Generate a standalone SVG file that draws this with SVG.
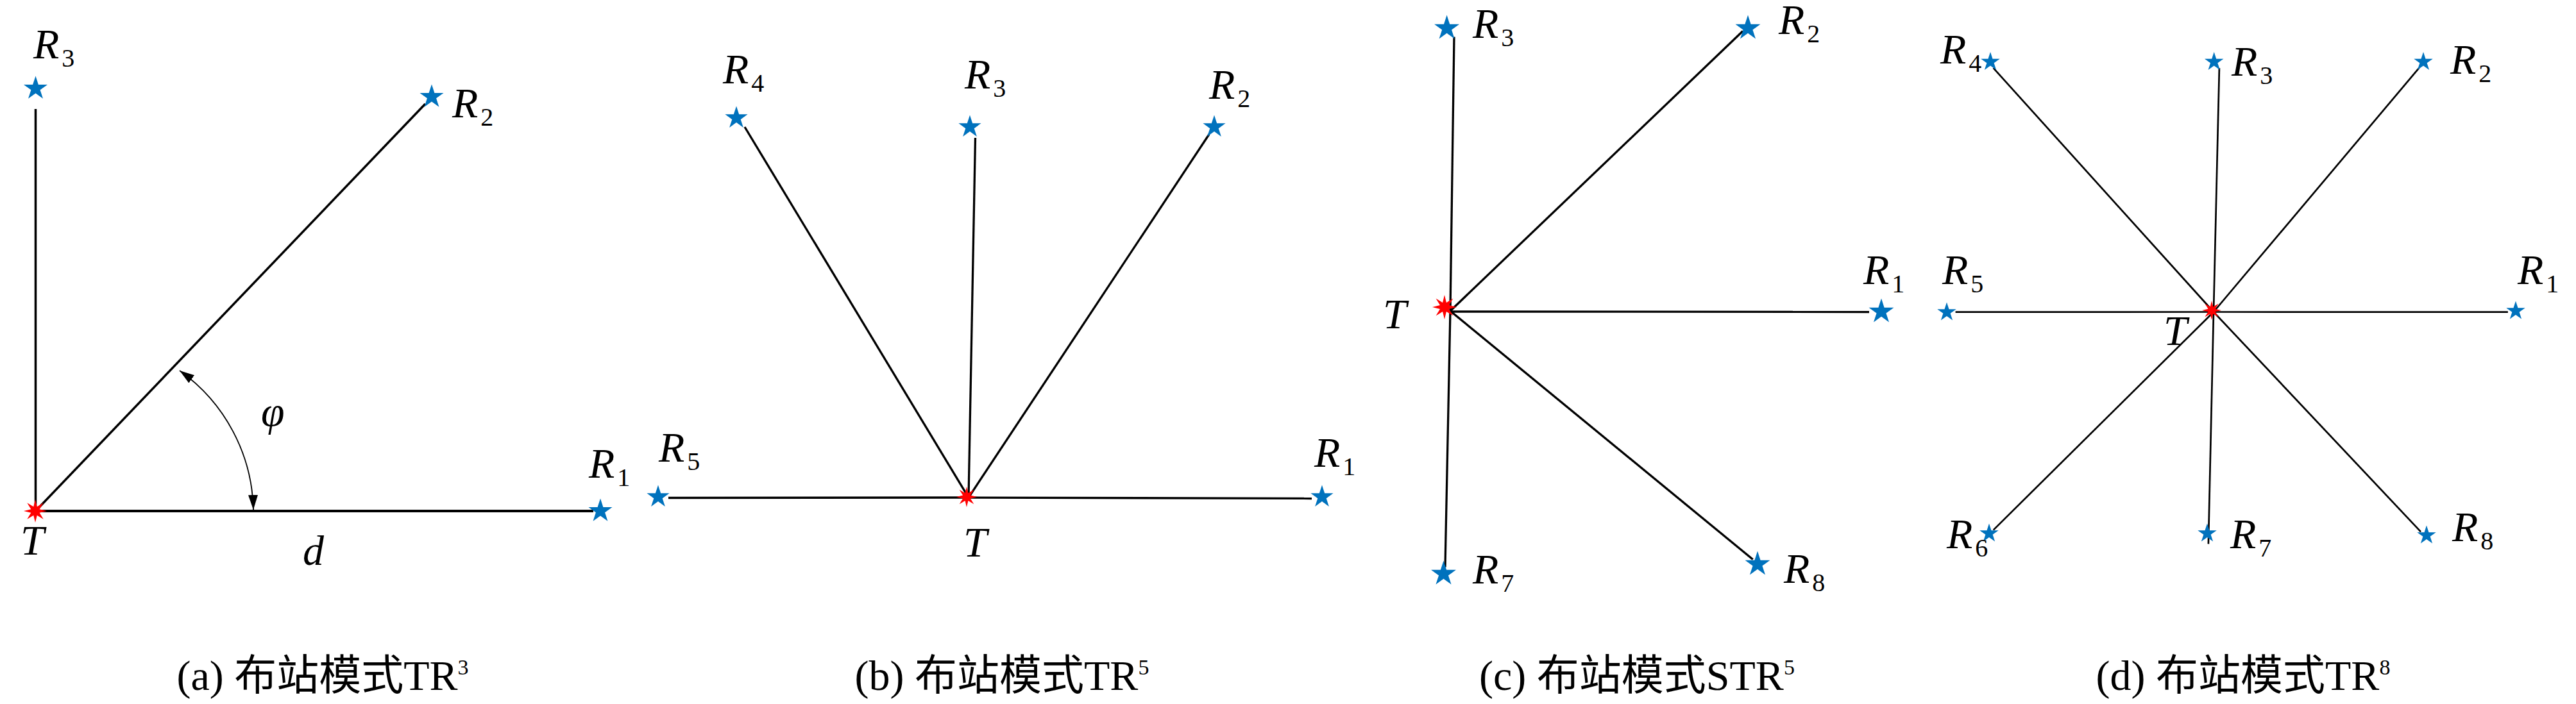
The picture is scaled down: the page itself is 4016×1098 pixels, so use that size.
<svg xmlns="http://www.w3.org/2000/svg" xmlns:xlink="http://www.w3.org/1999/xlink" width="4016" height="1098" viewBox="0 0 4016 1098">
<style>
.bg{fill:#ffffff}
.ln{stroke:#000;stroke-linecap:butt;fill:none}
.la{stroke-width:3.5}
.lb{stroke-width:3.3}
.lc{stroke-width:3.3}
.ld{stroke-width:2.7}
.arc{stroke:#000;stroke-width:1.8;fill:none}
.rs{fill:#0072BD}
.ts{fill:#FF0000}
.lbl{font-family:"Liberation Serif","DejaVu Serif",serif;font-style:italic;font-size:66px;fill:#000}
.sub{font-style:normal;font-size:40px}
.cap{font-family:"Liberation Serif","Noto Sans CJK SC",serif;font-size:66px;fill:#000;text-anchor:middle}
.sup{font-size:34px}
</style>
<defs>
<path id="star" d="M0,-10 L2.245,-3.09 L9.511,-3.09 L3.633,1.18 L5.878,8.09 L0,3.82 L-5.878,8.09 L-3.633,1.18 L-9.511,-3.09 L-2.245,-3.09 Z"/>
<path id="tstar" d="M10,0 L3.696,1.531 L7.071,7.071 L1.531,3.696 L0,10 L-1.531,3.696 L-7.071,7.071 L-3.696,1.531 L-10,0 L-3.696,-1.531 L-7.071,-7.071 L-1.531,-3.696 L0,-10 L1.531,-3.696 L7.071,-7.071 L3.696,-1.531 Z"/>
<marker id="ah" markerUnits="userSpaceOnUse" markerWidth="24" markerHeight="16" refX="23" refY="7.5" orient="auto-start-reverse">
<path d="M0,0 L23,7.5 L0,15 Z" fill="#000"/>
</marker>
</defs>
<rect class="bg" x="0" y="0" width="4016" height="1098"/>

<g id="connectors">
<!-- panel a -->
<line class="ln la" x1="55.5" y1="797" x2="55.5" y2="170"/>
<line class="ln la" x1="55.5" y1="797" x2="663" y2="162"/>
<line class="ln la" x1="55.5" y1="797" x2="925" y2="797" style="stroke-width:3.8"/>
<path class="arc" d="M280,578 A273,273 0 0 1 395,795" marker-start="url(#ah)" marker-end="url(#ah)"/>
<!-- panel b -->
<line class="ln lb" x1="1510" y1="776" x2="1161" y2="198"/>
<line class="ln lb" x1="1510" y1="776" x2="1520.5" y2="215"/>
<line class="ln lb" x1="1510" y1="776" x2="1885" y2="209.5"/>
<line class="ln lb" x1="1510" y1="776" x2="1042" y2="776.5"/>
<line class="ln lb" x1="1510" y1="776" x2="2045" y2="777.5"/>
<!-- panel c -->
<line class="ln lc" x1="2261" y1="485" x2="2267" y2="57.6"/>
<line class="ln lc" x1="2261" y1="485" x2="2717" y2="48.5"/>
<line class="ln lc" x1="2261" y1="486" x2="2914" y2="486.5"/>
<line class="ln lc" x1="2261" y1="485" x2="2253" y2="884.6"/>
<line class="ln lc" x1="2261" y1="485" x2="2732.7" y2="872.5"/>
<!-- panel d -->
<line class="ln ld" x1="3451" y1="486.5" x2="3107.7" y2="106.2"/>
<line class="ln ld" x1="3451" y1="486.5" x2="3459.9" y2="106.2"/>
<line class="ln ld" x1="3451" y1="486.5" x2="3771.2" y2="106.2"/>
<line class="ln ld" x1="3451" y1="486.5" x2="3048.6" y2="486.7"/>
<line class="ln ld" x1="3451" y1="486.5" x2="3909.9" y2="486.7"/>
<line class="ln ld" x1="3451" y1="486.5" x2="3107.7" y2="826.6"/>
<line class="ln ld" x1="3451" y1="486.5" x2="3442.9" y2="848.4"/>
<line class="ln ld" x1="3451" y1="486.5" x2="3774" y2="829.4"/>
</g>

<!-- panel a nodes -->
<g id="a-T"><use href="#tstar" class="ts" transform="translate(55,797) scale(1.8)"/><text class="lbl" x="32" y="865">T</text></g>
<g id="a-R3"><use href="#star" class="rs" transform="translate(55.5,138) scale(1.95)"/><text class="lbl" x="52" y="91">R<tspan class="sub" dx="4" dy="13">3</tspan></text></g>
<g id="a-R2"><use href="#star" class="rs" transform="translate(673,151) scale(1.95)"/><text class="lbl" x="705" y="183">R<tspan class="sub" dx="4" dy="13">2</tspan></text></g>
<g id="a-R1"><use href="#star" class="rs" transform="translate(936,797) scale(1.95)"/><text class="lbl" x="918" y="745">R<tspan class="sub" dx="4" dy="13">1</tspan></text></g>
<g id="a-labels"><text class="lbl" x="472" y="881">d</text><text class="lbl" x="407" y="664">φ</text></g>

<!-- panel b nodes -->
<g id="b-T"><use href="#tstar" class="ts" transform="translate(1507,775) scale(1.6)"/><text class="lbl" x="1502" y="868">T</text></g>
<g id="b-R4"><use href="#star" class="rs" transform="translate(1148,184) scale(1.85)"/><text class="lbl" x="1127" y="130">R<tspan class="sub" dx="4" dy="13">4</tspan></text></g>
<g id="b-R3"><use href="#star" class="rs" transform="translate(1512,198) scale(1.85)"/><text class="lbl" x="1504" y="138">R<tspan class="sub" dx="4" dy="13">3</tspan></text></g>
<g id="b-R2"><use href="#star" class="rs" transform="translate(1893,198) scale(1.85)"/><text class="lbl" x="1885" y="154">R<tspan class="sub" dx="4" dy="13">2</tspan></text></g>
<g id="b-R5"><use href="#star" class="rs" transform="translate(1026,775) scale(1.85)"/><text class="lbl" x="1027" y="720">R<tspan class="sub" dx="4" dy="13">5</tspan></text></g>
<g id="b-R1"><use href="#star" class="rs" transform="translate(2061,775) scale(1.85)"/><text class="lbl" x="2049" y="728">R<tspan class="sub" dx="4" dy="13">1</tspan></text></g>

<!-- panel c nodes -->
<g id="c-T"><use href="#tstar" class="ts" transform="translate(2252,479) scale(1.9)"/><text class="lbl" x="2156" y="512">T</text></g>
<g id="c-R3"><use href="#star" class="rs" transform="translate(2255.6,44) scale(2.05)"/><text class="lbl" x="2296" y="59">R<tspan class="sub" dx="4" dy="13">3</tspan></text></g>
<g id="c-R2"><use href="#star" class="rs" transform="translate(2725,44) scale(2.05)"/><text class="lbl" x="2773" y="53">R<tspan class="sub" dx="4" dy="13">2</tspan></text></g>
<g id="c-R1"><use href="#star" class="rs" transform="translate(2933,486) scale(2.05)"/><text class="lbl" x="2905" y="443">R<tspan class="sub" dx="4" dy="13">1</tspan></text></g>
<g id="c-R7"><use href="#star" class="rs" transform="translate(2250.5,895) scale(2.05)"/><text class="lbl" x="2296" y="910">R<tspan class="sub" dx="4" dy="13">7</tspan></text></g>
<g id="c-R8"><use href="#star" class="rs" transform="translate(2740,880) scale(2.05)"/><text class="lbl" x="2781" y="909">R<tspan class="sub" dx="4" dy="13">8</tspan></text></g>

<!-- panel d nodes -->
<g id="d-T"><use href="#tstar" class="ts" transform="translate(3448,484) scale(1.5)"/><text class="lbl" x="3373" y="538">T</text></g>
<g id="d-R4"><use href="#star" class="rs" transform="translate(3103,96.5) scale(1.55)"/><text class="lbl" x="3025" y="99">R<tspan class="sub" dx="4" dy="13">4</tspan></text></g>
<g id="d-R3"><use href="#star" class="rs" transform="translate(3451.7,96.5) scale(1.55)"/><text class="lbl" x="3479" y="118">R<tspan class="sub" dx="4" dy="13">3</tspan></text></g>
<g id="d-R2"><use href="#star" class="rs" transform="translate(3778,96.5) scale(1.55)"/><text class="lbl" x="3820" y="115">R<tspan class="sub" dx="4" dy="13">2</tspan></text></g>
<g id="d-R5"><use href="#star" class="rs" transform="translate(3035,487) scale(1.55)"/><text class="lbl" x="3028" y="443">R<tspan class="sub" dx="4" dy="13">5</tspan></text></g>
<g id="d-R1"><use href="#star" class="rs" transform="translate(3922,485) scale(1.55)"/><text class="lbl" x="3925" y="443">R<tspan class="sub" dx="4" dy="13">1</tspan></text></g>
<g id="d-R6"><use href="#star" class="rs" transform="translate(3101,832) scale(1.55)"/><text class="lbl" x="3035" y="855">R<tspan class="sub" dx="4" dy="13">6</tspan></text></g>
<g id="d-R7"><use href="#star" class="rs" transform="translate(3441,832) scale(1.55)"/><text class="lbl" x="3477" y="855">R<tspan class="sub" dx="4" dy="13">7</tspan></text></g>
<g id="d-R8"><use href="#star" class="rs" transform="translate(3783,835) scale(1.55)"/><text class="lbl" x="3823" y="844">R<tspan class="sub" dx="4" dy="13">8</tspan></text></g>

<g id="captions">
<text class="cap" x="503" y="1076">(a) 布站模式TR<tspan class="sup" dy="-24">3</tspan></text>
<text class="cap" x="1562" y="1076">(b) 布站模式TR<tspan class="sup" dy="-24">5</tspan></text>
<text class="cap" x="2552" y="1076">(c) 布站模式STR<tspan class="sup" dy="-24">5</tspan></text>
<text class="cap" x="3497" y="1076">(d) 布站模式TR<tspan class="sup" dy="-24">8</tspan></text>
</g>
</svg>
